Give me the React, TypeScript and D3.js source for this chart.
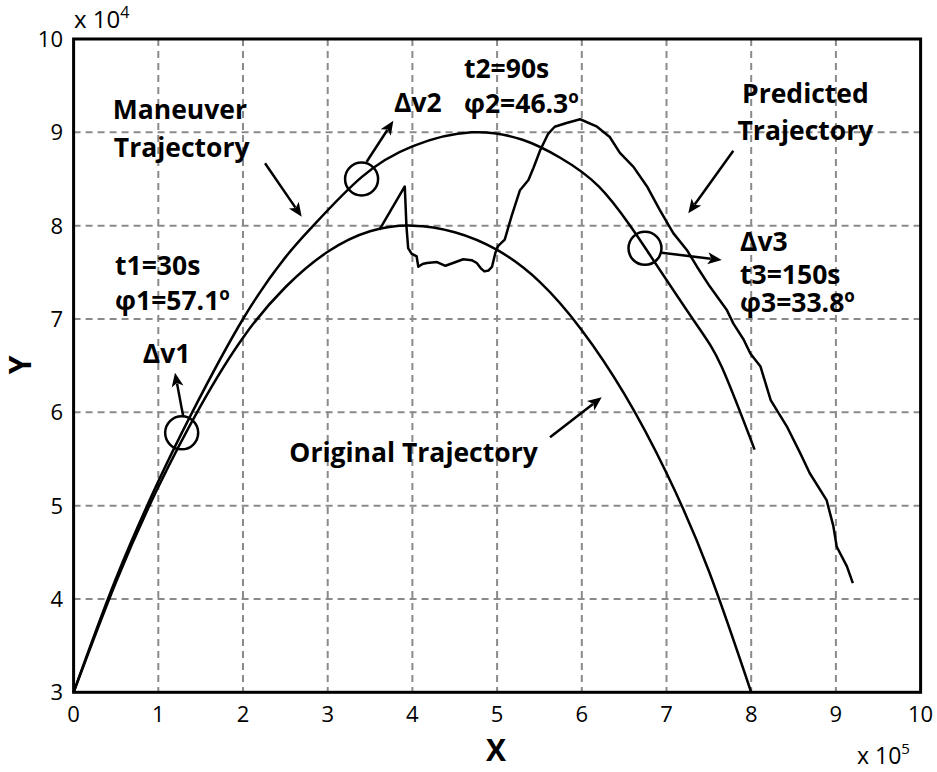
import React from "react";
import * as d3 from "d3";

const W = 937;
const H = 772;

// Axis ticks
const xTicks = [0, 1, 2, 3, 4, 5, 6, 7, 8, 9, 10];
const yTicks = [3, 4, 5, 6, 7, 8, 9, 10];

// Original trajectory
const origX = [0, 0.5, 1, 1.5, 2, 2.5, 3, 3.5, 4, 4.5, 5, 5.5, 6, 6.5, 7, 7.5, 8];
const origY = [3, 4.18, 5.2, 6.07, 6.8, 7.34, 7.72, 7.94, 8.0, 7.93, 7.74, 7.4, 6.88, 6.2, 5.35, 4.3, 3.0];

// Maneuver trajectory
const manX = [0, 0.5, 1, 1.4, 2, 2.5, 2.83, 3.4, 4, 4.7, 5.3, 5.74, 6.2, 6.57, 6.75, 7.31, 7.65, 8.04];
const manY = [3, 4.22, 5.26, 6.0, 7.0, 7.66, 8.0, 8.52, 8.85, 9.0, 8.92, 8.73, 8.42, 8.0, 7.76, 7.0, 6.49, 5.6];

// Predicted trajectory
const predX = [3.61, 3.91, 3.93, 3.95, 3.99, 4.05, 4.07, 4.12, 4.17, 4.29, 4.39, 4.48, 4.6, 4.7, 4.76, 4.81, 4.85, 4.9, 4.94, 4.98, 5.01, 5.09, 5.17, 5.27, 5.37, 5.43, 5.51, 5.6, 5.68, 5.82, 5.98, 6.18, 6.33, 6.45, 6.61, 6.77, 6.92, 7.08, 7.24, 7.36, 7.51, 7.71, 7.79, 7.91, 7.99, 8.11, 8.23, 8.42, 8.58, 8.69, 8.89, 8.97, 9.01, 9.13, 9.2];
const predY = [7.955, 8.42, 7.99, 7.76, 7.7, 7.67, 7.56, 7.59, 7.6, 7.61, 7.57, 7.6, 7.64, 7.63, 7.6, 7.54, 7.51, 7.52, 7.56, 7.71, 7.78, 7.85, 8.1, 8.38, 8.49, 8.62, 8.81, 8.98, 9.06, 9.1, 9.14, 9.06, 8.95, 8.78, 8.63, 8.42, 8.17, 7.92, 7.74, 7.56, 7.35, 7.1, 6.95, 6.78, 6.63, 6.49, 6.13, 5.85, 5.56, 5.35, 5.06, 4.78, 4.56, 4.35, 4.17];

// Impulse markers (circles)
const impX = [1.276, 3.4, 6.746];
const impY = [5.78, 8.5, 7.757];

// Arrows: start and end in data units
const arrowX1 = [1.295, 3.46, 6.943, 2.26, 7.789, 5.625];
const arrowY1 = [5.953, 8.685, 7.71, 8.668, 8.803, 5.732];
const arrowX2 = [1.197, 3.775, 7.652, 2.693, 7.257, 6.235];
const arrowY2 = [6.424, 9.124, 7.632, 8.096, 8.132, 6.161];

// Annotation texts
const labelText = ["Maneuver", "Trajectory", "t1=30s", "φ1=57.1", "Δv1", "Δv2", "t2=90s", "φ2=46.3", "Predicted", "Trajectory", "Original Trajectory", "Δv3", "t3=150s", "φ3=33.8"];
const labelX = [0.462, 0.475, 0.489, 0.489, 0.816, 3.783, 4.609, 4.609, 8.64, 8.64, 2.547, 7.868, 7.868, 7.868];
const labelY = [9.139, 8.736, 7.474, 7.099, 6.528, 9.221, 9.582, 9.207, 9.318, 8.921, 5.471, 7.73, 7.375, 7.075];
const labelAnchor = ["start", "start", "start", "start", "start", "start", "start", "start", "middle", "middle", "start", "start", "start", "start"];
const labelDeg = [false, false, false, true, false, false, false, true, false, false, false, false, false, true];

const x = d3.scaleLinear().domain([0, 10]).range([73.6, 920.6]);
const y = d3.scaleLinear().domain([3, 10]).range([692.3, 39]);

const FONT = "'Open Sans', 'Noto Sans', sans-serif";

function pathOf(xs: number[], ys: number[], smooth: boolean) {
  const pts: [number, number][] = xs.map((v, i) => [v, ys[i]]);
  return d3
    .line<[number, number]>()
    .x((d) => x(d[0]))
    .y((d) => y(d[1]))
    .curve(smooth ? d3.curveNatural : d3.curveLinear)(pts) as string;
}

function Arrow({ x1, y1, x2, y2 }: { x1: number; y1: number; x2: number; y2: number }) {
  const px1 = x(x1), py1 = y(y1), px2 = x(x2), py2 = y(y2);
  const ang = Math.atan2(py2 - py1, px2 - px1);
  const L = 14, Wd = 6;
  const bx = px2 - L * Math.cos(ang);
  const by = py2 - L * Math.sin(ang);
  const nx = -Math.sin(ang), ny = Math.cos(ang);
  const head = `M${px2},${py2} L${bx + nx * Wd},${by + ny * Wd} L${bx + L * 0.25 * Math.cos(ang)},${by + L * 0.25 * Math.sin(ang)} L${bx - nx * Wd},${by - ny * Wd} Z`;
  return (
    <g>
      <line x1={px1} y1={py1} x2={bx + 3 * Math.cos(ang)} y2={by + 3 * Math.sin(ang)} stroke="#000" strokeWidth={2.5} />
      <path d={head} fill="#000" />
    </g>
  );
}

export default function App() {
  const [x0, x1] = x.range();
  const [y0, y1] = y.range();
  return (
    <svg width={W} height={H} style={{ position: "absolute", left: 0, top: 0, background: "#fff" }} fontFamily={FONT}>
      <rect x={0} y={0} width={W} height={H} fill="#fff" />
      {/* grid */}
      {xTicks.slice(1, -1).map((t) => (
        <line key={"gx" + t} x1={x(t)} x2={x(t)} y1={y1} y2={y0} stroke="#8a8a8a" strokeWidth={2} strokeDasharray="7,5" />
      ))}
      {yTicks.slice(1, -1).map((t) => (
        <line key={"gy" + t} x1={x0} x2={x1} y1={y(t)} y2={y(t)} stroke="#8a8a8a" strokeWidth={2} strokeDasharray="7,5" />
      ))}
      {/* curves */}
      <path d={pathOf(origX, origY, true)} fill="none" stroke="#000" strokeWidth={2.5} />
      <path d={pathOf(manX, manY, true)} fill="none" stroke="#000" strokeWidth={2.5} />
      <path d={pathOf(predX, predY, false)} fill="none" stroke="#000" strokeWidth={2.5} strokeLinejoin="round" />
      {/* impulse circles */}
      {impX.map((v, i) => (
        <circle key={"c" + i} cx={x(v)} cy={y(impY[i])} r={16.5} fill="none" stroke="#000" strokeWidth={2.5} />
      ))}
      {/* arrows */}
      {arrowX1.map((v, i) => (
        <Arrow key={"a" + i} x1={v} y1={arrowY1[i]} x2={arrowX2[i]} y2={arrowY2[i]} />
      ))}
      {/* frame */}
      <rect x={x0} y={y1} width={x1 - x0} height={y0 - y1} fill="none" stroke="#000" strokeWidth={3} />
      {/* tick labels */}
      {xTicks.map((t) => (
        <text key={"tx" + t} x={x(t)} y={722} textAnchor="middle" fontSize={22} fill="#000">
          {t}
        </text>
      ))}
      {yTicks.map((t) => (
        <text key={"ty" + t} x={63} y={y(t) + 8} textAnchor="end" fontSize={22} fill="#000">
          {t}
        </text>
      ))}
      {/* exponents */}
      <text x={74} y={28} fontSize={24} fill="#000">
        x 10<tspan dy={-10} fontSize={16}>4</tspan>
      </text>
      <text x={857} y={764} fontSize={23} fill="#000">
        x 10<tspan dy={-10} fontSize={15}>5</tspan>
      </text>
      {/* axis labels */}
      <text x={496} y={761} textAnchor="middle" fontSize={30} fontWeight={700} fill="#000">
        X
      </text>
      <text transform={`translate(31,365) rotate(-90)`} textAnchor="middle" fontSize={30} fontWeight={700} fill="#000">
        Y
      </text>
      {/* annotations */}
      {labelText.map((s, i) => (
        <text key={"l" + i} x={x(labelX[i])} y={y(labelY[i])} textAnchor={labelAnchor[i] as any} fontSize={26.5} fontWeight={700} fill="#000">
          {s}
          {labelDeg[i] ? (
            <tspan dy={-10} fontSize={17}>o</tspan>
          ) : null}
        </text>
      ))}
    </svg>
  );
}
